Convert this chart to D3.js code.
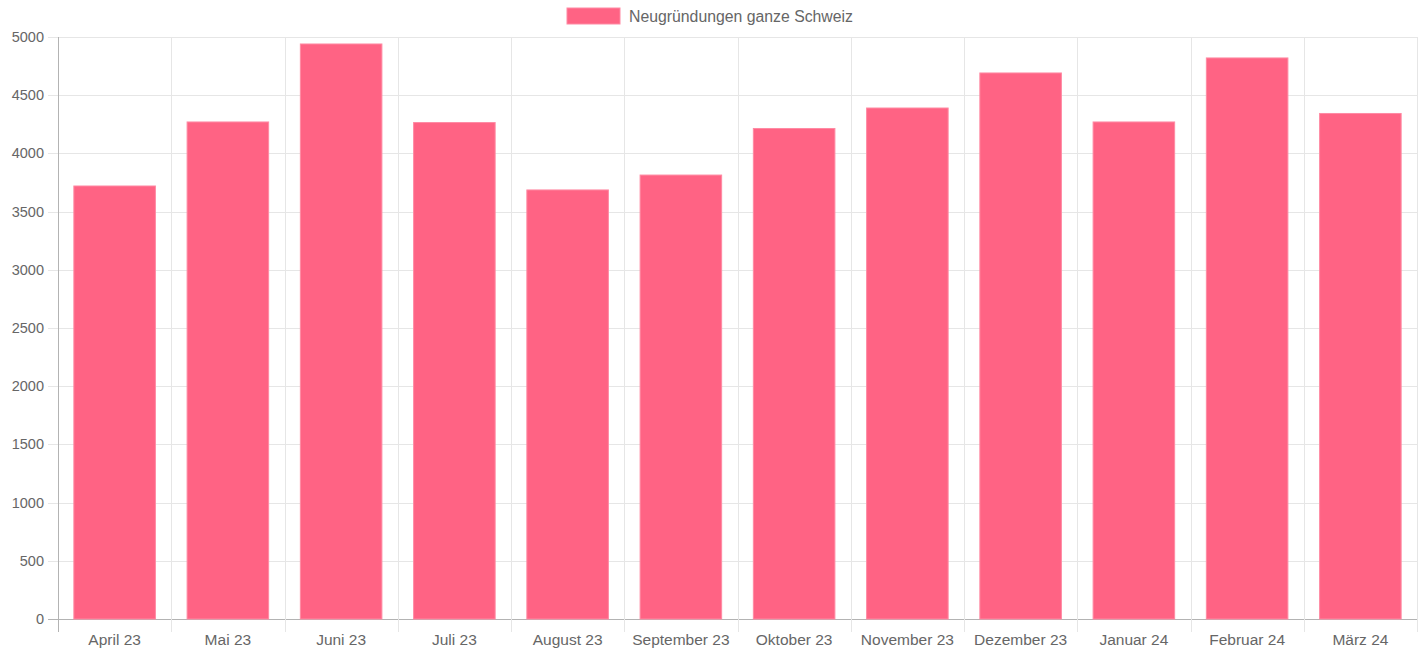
<!DOCTYPE html>
<html lang="de">
  <head>
    <meta charset="UTF-8" />
    <title>Neugründungen ganze Schweiz</title>
    <style>
      body { margin: 0; background: #fff; }
      svg text { font-family: "Liberation Sans", Arial, Helvetica, sans-serif; }
    </style>
  </head>
  <body>
    <script src="https://d3js.org/d3.v7.min.js"></script>
    <script>
      const months = ["April 23", "Mai 23", "Juni 23", "Juli 23", "August 23", "September 23",
        "Oktober 23", "November 23", "Dezember 23", "Januar 24", "Februar 24", "März 24"];
      const counts = [3720, 4270, 4940, 4265, 3686, 3814, 4214, 4390, 4691, 4270, 4820, 4343];
      const yTicks = [0, 500, 1000, 1500, 2000, 2500, 3000, 3500, 4000, 4500, 5000];
      const seriesName = "Neugründungen ganze Schweiz";

      const width = 1423, height = 653;
      const plotLeft = 58, plotRight = 1417, plotTop = 37, plotBottom = 619;
      const barColor = "#ff6384";
      const gridColor = "#e6e6e6";
      const axisColor = "#b3b3b3";
      const textColor = "#666";

      const svg = d3.select("body").append("svg")
        .attr("width", width)
        .attr("height", height);

      const x = d3.scaleBand().domain(months).range([plotLeft, plotRight]);
      const y = d3.scaleLinear().domain([0, 5000]).range([plotBottom, plotTop]);

      // horizontal grid
      svg.append("g")
        .selectAll("line")
        .data(yTicks)
        .join("line")
        .attr("x1", plotLeft - 10)
        .attr("x2", plotRight)
        .attr("y1", d => Math.round(y(d)) + 0.5)
        .attr("y2", d => Math.round(y(d)) + 0.5)
        .attr("stroke", d => d === 0 ? axisColor : gridColor);

      // vertical grid (between categories)
      const edges = months.map(m => x(m)).concat([plotRight]);
      svg.append("g")
        .selectAll("line")
        .data(edges)
        .join("line")
        .attr("x1", d => Math.round(d) + 0.5)
        .attr("x2", d => Math.round(d) + 0.5)
        .attr("y1", plotTop)
        .attr("y2", plotBottom + 13)
        .attr("stroke", (d, i) => i === 0 ? axisColor : gridColor);

      // bars
      const inner = x.bandwidth() * 0.72;
      svg.append("g")
        .selectAll("rect")
        .data(counts)
        .join("rect")
        .attr("x", (d, i) => x(months[i]) + (x.bandwidth() - inner) / 2)
        .attr("y", d => y(d))
        .attr("width", inner)
        .attr("height", d => y(0) - y(d))
        .attr("fill", barColor)
        .attr("stroke", "#ff8aa3")
        .attr("stroke-width", 1);

      // y labels
      svg.append("g")
        .selectAll("text")
        .data(yTicks)
        .join("text")
        .attr("x", plotLeft - 14)
        .attr("y", d => y(d))
        .attr("dy", "0.35em")
        .attr("text-anchor", "end")
        .attr("font-size", 14.5)
        .attr("fill", textColor)
        .text(d => d);

      // x labels
      svg.append("g")
        .selectAll("text")
        .data(months)
        .join("text")
        .attr("x", d => x(d) + x.bandwidth() / 2)
        .attr("y", 645)
        .attr("text-anchor", "middle")
        .attr("font-size", 15.5)
        .attr("fill", textColor)
        .text(d => d);

      // legend
      const legend = svg.append("g");
      legend.append("rect")
        .attr("x", 567)
        .attr("y", 8)
        .attr("width", 53)
        .attr("height", 16)
        .attr("fill", barColor)
        .attr("stroke", "#ff8aa3");
      legend.append("text")
        .attr("x", 629)
        .attr("y", 16)
        .attr("dy", "0.35em")
        .attr("font-size", 15.8)
        .attr("fill", textColor)
        .text(seriesName);
    </script>
  </body>
</html>
